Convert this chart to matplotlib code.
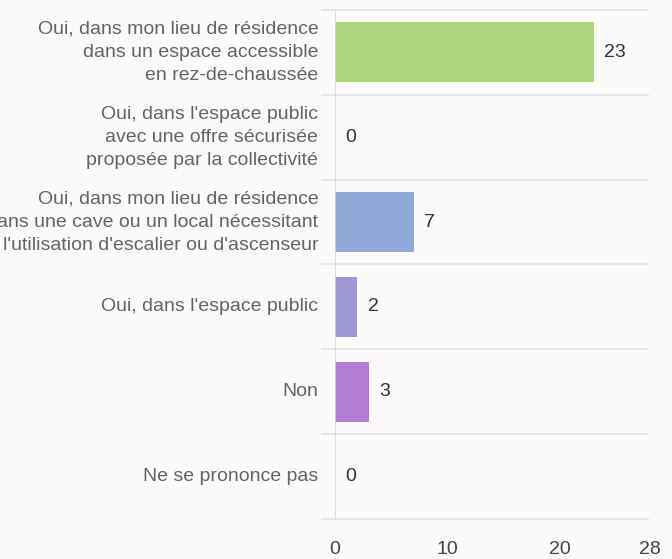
import matplotlib.pyplot as plt

plt.rcParams['font.family'] = ['Liberation Sans', 'DejaVu Sans']

# --- data ---
categories = [
    "Oui, dans mon lieu de résidence\ndans un espace accessible\nen rez-de-chaussée",
    "Oui, dans l'espace public\navec une offre sécurisée\nproposée par la collectivité",
    "Oui, dans mon lieu de résidence\ndans une cave ou un local nécessitant\nl'utilisation d'escalier ou d'ascenseur",
    "Oui, dans l'espace public",
    "Non",
    "Ne se prononce pas",
]
values = [23, 0, 7, 2, 3, 0]
colors = ['#acd57c', '#acd57c', '#91a8d9', '#9d99d7', '#b47bd7', '#b47bd7']
xticks = [0, 10, 20, 28]

bg = '#fafafa'
fig = plt.figure(figsize=(6.72, 5.59), dpi=100, facecolor=bg)
ax = fig.add_axes([0.4985, 0.0716, 0.4687, 0.9106], facecolor=bg)

ypos = list(range(len(categories)))
ax.barh(ypos, values, height=0.71, color=colors, edgecolor='none', zorder=2)

# value labels
for y, v in zip(ypos, values):
    ax.annotate(str(v), (v, y), xytext=(7.5, 0), textcoords='offset points',
                va='center', ha='left', fontsize=14, color='#333333')

# category labels (right aligned, clipped at the left edge like the original)
for y, lab in zip(ypos, categories):
    ax.annotate(lab, (0, y), xytext=(-12, 0), textcoords='offset points',
                va='center', ha='right', fontsize=14, color='#646464',
                linespacing=1.47, annotation_clip=False)

ax.set_xlim(0, 28)
ax.set_ylim(len(categories) - 0.5, -0.5)

# separators between categories
for b in [i - 0.5 for i in range(len(categories) + 1)]:
    ax.plot([-1.15, 27.8], [b, b], color='#e3e3e3', lw=1.2, clip_on=False, zorder=1)
ax.axvline(0, color='#d6d6d6', lw=1.2, zorder=3)

for s in ax.spines.values():
    s.set_visible(False)
ax.set_yticks([])
ax.set_xticks(xticks)
ax.tick_params(axis='x', length=0, pad=16, labelsize=14, labelcolor='#444444')

fig.savefig('out.png', dpi=100, facecolor=bg)
